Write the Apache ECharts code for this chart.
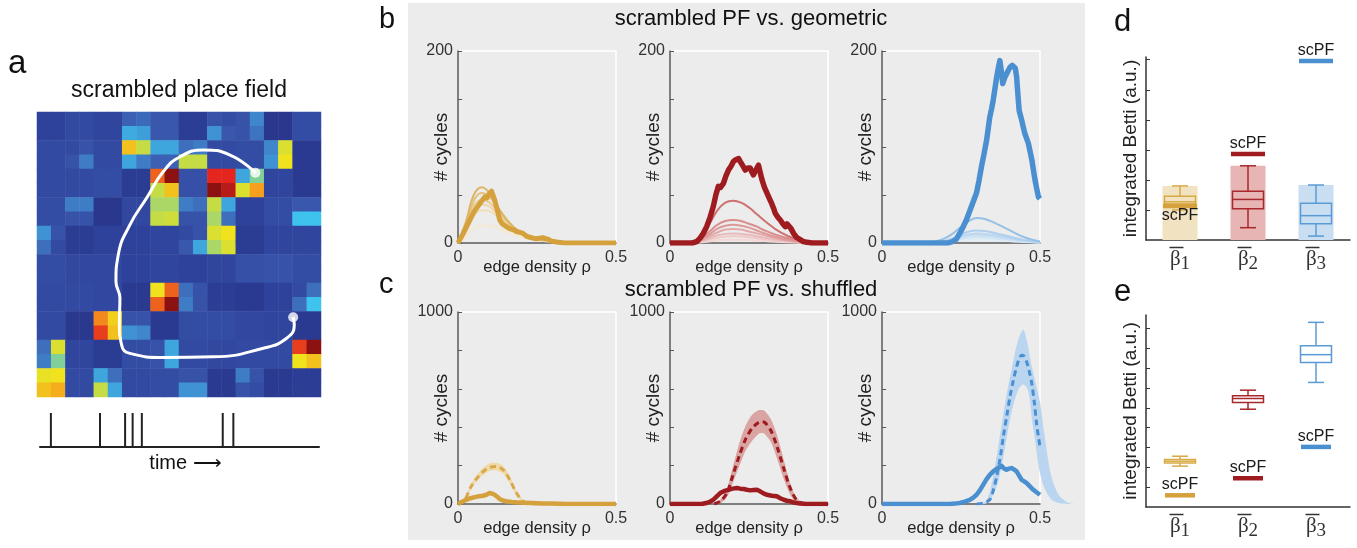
<!DOCTYPE html>
<html><head><meta charset="utf-8">
<script src="https://cdn.jsdelivr.net/npm/echarts/dist/echarts.min.js"></script>
<style>html,body{margin:0;padding:0;background:#fff}#c{width:1357px;height:548px}</style>
</head><body><div id="c"></div>
<script>
// ---------------- DATA ----------------
// panel a: scrambled place field, 10x10 cells; each cell is one colour value (0..9)
// or its four quarters [top-left, top-right, bottom-left, bottom-right]
const heatCells = [
 [1.2, 1.5, 1.3, [2.2,2.4,3.6,3.4], 2.0, 1.0, [1.8,1.6,3.2,2.0], [1.8,3.0,1.8,2.6], 0.6, 1.6],
 [1.5, [1.5,1.8,1.8,2.8], 1.5, [6.5,5.0,3.5,2.8], [3.5,3.5,2.2,2.2], [2.5,2.8,5.0,5.0], 1.5, 1.6, [3.0,5.5,3.2,6.0], 0.8],
 [1.5, 1.5, 1.6, 0.9, [7.5,9.0,5.0,6.5], 1.7, [8.0,8.0,9.0,8.5], [3.5,4.5,5.5,7.0], 1.3, 0.8],
 [1.6, [2.8,2.8,1.8,1.8], 0.6, 1.4, [4.8,4.8,5.0,5.2], [2.8,2.5,1.8,1.8], [5.0,3.5,4.8,2.5], 1.2, 1.6, [2.0,2.0,4.0,4.0]],
 [[3.2,1.8,2.5,1.5], 0.9, 1.2, 1.2, 1.3, [1.5,1.8,2.0,3.5], [5.5,6.0,4.8,5.5], 0.9, 1.3, 1.3],
 [1.6, 1.4, 1.4, 1.2, 1.3, 1.2, 1.3, 1.7, 1.8, 1.6],
 [1.5, 1.5, 1.4, 0.8, [6.0,7.5,7.5,9.0], [2.5,1.8,2.8,1.8], 1.0, 0.8, 1.2, [1.5,2.5,2.5,4.0]],
 [1.5, 0.7, [7.2,6.3,7.8,6.5], [1.8,1.8,3.2,3.0], 0.8, 1.6, 1.6, 1.4, 1.3, 0.8],
 [[2.5,5.5,2.8,4.5], 1.3, 0.9, 1.6, [1.8,3.5,1.8,3.5], 1.5, 1.4, 1.5, 1.5, [7.8,9.0,6.0,6.5]],
 [[5.8,6.0,6.5,6.8], 1.5, [3.5,2.5,5.0,3.5], 1.5, 1.6, [1.8,1.8,3.2,3.2], 0.8, [2.8,1.8,1.8,1.6], 0.8, 1.0]
];
const trajX = [7.69,6.80,5.86,5.04,4.45,3.86,3.27,2.86,2.78,2.92,2.90,2.98,3.27,4.45,6.21,7.97,8.79,9.06,9.02];
const trajY = [2.13,1.51,1.33,1.57,2.09,3.02,3.96,5.02,5.95,6.53,7.36,8.18,8.47,8.61,8.59,8.29,7.94,7.47,7.20];
const spikeTimes = [0.39,2.15,3.05,3.32,3.65,6.55,6.93];

// panel b: scrambled PF (thick) vs geometric (thin)
const b1Scpf = [[0,0],[0.005,3],[0.015,9],[0.027,17],[0.038,24],[0.048,31],[0.058,36],[0.069,41],[0.078,45],[0.085,48],[0.092,47],[0.098,51],[0.106,54],[0.111,52],[0.116,45],[0.124,35],[0.132,24],[0.14,20],[0.153,17],[0.163,15],[0.174,14],[0.185,12],[0.196,11],[0.206,10],[0.217,7],[0.227,6],[0.238,5],[0.248,4.5],[0.258,5],[0.269,5.5],[0.278,4.5],[0.285,4],[0.295,2],[0.312,1],[0.33,0.3],[0.344,0],[0.5,0]];
const b1GeoX = [0,0.025,0.05,0.075,0.1,0.125,0.15,0.175,0.2,0.25,0.3,0.35,0.4,0.45,0.5];
const b1Geo = [
 [0,22,50,58,52,38,26,17,11,5,2,1,0,0,0],
 [0,18,44,52,48,37,26,17,11,5,2,1,0,0,0],
 [0,15,38,45,42,33,24,16,10,4,2,0.5,0,0,0],
 [0,13,33,40,38,30,22,15,10,4,1.5,0.5,0,0,0],
 [0,11,28,34,33,27,20,14,9,4,1.5,0.5,0,0,0],
 [0,6,15,18,18,16,12,9,6,3,1,0.3,0,0,0]
];
const b2Scpf = [[0,0],[0.07,0],[0.085,1.5],[0.095,5],[0.105,10],[0.116,17],[0.127,27],[0.137,38],[0.145,50],[0.153,59],[0.16,58],[0.169,62],[0.177,70],[0.185,76],[0.193,80],[0.201,85],[0.209,87],[0.217,88],[0.222,85],[0.227,83],[0.233,79],[0.238,76],[0.246,78],[0.254,78],[0.259,74],[0.264,71],[0.272,76],[0.28,81],[0.285,74],[0.291,66],[0.299,58],[0.307,52],[0.315,46],[0.322,41],[0.328,36],[0.333,31],[0.341,27],[0.349,24],[0.357,20],[0.365,17],[0.37,20],[0.375,21],[0.383,15],[0.391,10],[0.4,6],[0.412,3.5],[0.422,1.5],[0.433,0.7],[0.45,0],[0.5,0]];
const b2GeoX = [0,0.05,0.075,0.1,0.125,0.15,0.175,0.2,0.225,0.25,0.275,0.3,0.35,0.4,0.45,0.5];
const b2Geo = [
 [0,0,2,8,20,34,42,44,42,37,30,23,11,4,1,0],
 [0,0,1,5,12,19,23,24,23,20,17,13,7,3,1,0],
 [0,0,1,4,9,15,18,19,18,16,13,10,5,2,0.5,0],
 [0,0,0.5,3,7,11,14,14.5,14,12,10,8,4,1.5,0.5,0],
 [0,0,0.5,2,5,8,9.5,10,9.5,8.5,7,5.5,3,1,0.3,0],
 [0,0,0.3,1.5,3.5,5.5,6.7,7,6.7,6,5,4,2,0.8,0.2,0],
 [0,0,0.2,0.8,1.8,2.8,3.3,3.5,3.3,3,2.5,2,1,0.4,0.1,0]
];
const b3Scpf = [[0,0],[0.209,0],[0.225,1.7],[0.235,4],[0.246,10],[0.257,17],[0.267,24],[0.275,31],[0.283,38],[0.291,45],[0.299,52],[0.307,65],[0.315,80],[0.323,93],[0.331,107],[0.336,119],[0.341,131],[0.347,140],[0.352,149],[0.358,162],[0.363,173],[0.368,182],[0.373,190],[0.378,178],[0.382,166],[0.388,172],[0.394,176],[0.4,180],[0.405,183],[0.412,185],[0.418,187],[0.422,182],[0.426,173],[0.43,155],[0.434,138],[0.438,133],[0.442,128],[0.452,114],[0.463,104],[0.474,87],[0.484,66],[0.49,56],[0.495,48],[0.5,46]];
const b3GeoX = [0,0.1,0.15,0.175,0.2,0.225,0.25,0.275,0.3,0.325,0.35,0.375,0.4,0.45,0.5];
const b3Geo = [
 [0,0,0.5,2,5,10,17,23,26,25,22,18,14,6,1.5],
 [0,0,0.2,1,2.5,5,9,12,13,12.5,11,9,7,3,1],
 [0,0,0.2,0.8,2,4,7,9,10,9.5,8.5,7,5.5,2.5,0.8],
 [0,0,0.1,0.6,1.5,3,5.5,7.5,8,7.5,7,5.5,4.5,2,0.6],
 [0,0,0.1,0.5,1.2,2.5,4,5.5,6,5.8,5,4,3.2,1.5,0.5],
 [0,0,0,0.3,0.7,1.5,2.5,3.3,3.5,3.4,3,2.5,2,1,0.3]
];

// panel c: scrambled PF (solid) vs shuffled (dashed mean, band)
const c1Scpf = [[0,0],[0.013,12],[0.026,22],[0.04,30],[0.053,36],[0.066,40],[0.079,43],[0.09,48],[0.1,57],[0.108,54],[0.116,48],[0.124,38],[0.132,26],[0.142,18],[0.153,14],[0.17,11],[0.185,9],[0.21,7],[0.238,5],[0.265,3],[0.29,2],[0.32,1],[0.34,0],[0.5,0]];
const c1ShufX = [0,0.021,0.042,0.069,0.095,0.122,0.143,0.164,0.185,0.206,0.227,0.25];
const c1ShufMean = [0,22,92,152,187,195,178,126,57,14,0,0];
const c1ShufHi = [0,28,105,170,208,215,198,145,70,20,2,0];
const c1ShufLo = [0,16,80,135,168,175,158,108,45,9,0,0];

const c2Scpf = [[0,0],[0.1,0],[0.115,5],[0.127,12],[0.137,22],[0.148,40],[0.159,57],[0.172,68],[0.185,74],[0.198,80],[0.212,83],[0.222,80],[0.233,78],[0.243,74],[0.254,71],[0.264,73],[0.275,74],[0.28,78],[0.285,66],[0.296,55],[0.307,48],[0.322,43],[0.338,40],[0.349,30],[0.36,22],[0.37,17],[0.381,14],[0.395,6],[0.412,2],[0.433,0],[0.5,0]];
const c2ShufX = [0.14,0.16,0.18,0.2,0.22,0.24,0.26,0.28,0.29,0.3,0.32,0.34,0.36,0.38,0.4,0.42,0.44];
const c2ShufMean = [0,15,57,155,255,340,395,425,429,425,380,292,185,85,22,3,0];
const c2ShufHi = [0,25,80,200,320,410,465,488,490,485,440,350,230,110,35,8,0];
const c2ShufLo = [0,5,35,115,200,280,330,365,370,365,320,230,130,50,8,0,0];

const c3Scpf = [[0,0],[0.215,0],[0.23,2],[0.246,5],[0.262,12],[0.278,22],[0.289,33],[0.299,48],[0.31,72],[0.32,100],[0.33,127],[0.341,152],[0.352,170],[0.363,183],[0.37,190],[0.378,199],[0.386,185],[0.394,178],[0.402,184],[0.41,187],[0.418,180],[0.426,170],[0.434,148],[0.442,126],[0.45,118],[0.458,109],[0.468,92],[0.479,74],[0.49,60],[0.5,48]];
const c3ShufX = [0.3,0.32,0.341,0.352,0.363,0.374,0.384,0.395,0.405,0.415,0.426,0.435,0.442,0.45,0.458,0.466,0.474,0.482,0.489,0.495,0.5];
const c3ShufMean = [0,5,22,70,144,240,351,460,559,640,715,760,775,770,740,690,628,530,420,350,299];
const c3BandX = [0.30,0.33,0.35,0.37,0.39,0.41,0.43,0.447,0.46,0.468,0.475,0.484,0.49,0.50,0.515,0.535,0.56,0.59,0.61];
const c3BandHi = [0,15,130,320,530,700,850,908,840,766,710,645,600,530,350,150,45,5,0];
const c3BandLo = [0,2,40,130,300,480,590,622,600,540,430,340,260,160,80,25,5,0,0];

// panels d, e: integrated Betti (box: min, q1, median, q3, max) and scPF values
const bettiCats = ['1','2','3'];
const boxD = [[1.00,1.20,1.27,1.46,1.80],[0.41,1.04,1.35,1.62,2.47],[0.13,0.54,0.81,1.22,1.83]];
const scpfD = [1.13,2.86,5.96];
const boxE = [[2.06,2.22,2.31,2.39,2.56],[4.93,5.27,5.47,5.61,5.89],[6.28,7.29,7.68,8.13,9.31]];
const scpfE = [0.59,1.45,3.03];

// ---------------- STYLE ----------------
const FF = '"Liberation Sans", Arial, Helvetica, sans-serif';
const SERIF = '"Liberation Serif", "Times New Roman", serif';
const GOLD = '#d4a13d', RED = '#9e1b20', BLUE = '#4a8fd0';
const jet = ['#252e7c','#2c3d96','#3a57ae','#3f86cc','#3dc3ee','#c6dc44','#f0e21c','#f6a01e','#e4261e','#8c1212'];
const goldGeoCol = ['#ddb567','#e3c27f','#e8cc93','#ecd5a6','#f0deb9','#f5e9d0'];
const redGeoCol = ['#cd7171','#d98d8c','#dd9998','#e3a9a8','#e8b9b8','#eec9c8','#f3d8d7'];
const blueGeoCol = ['#97c0e6','#afcfee','#bad6f0','#c6ddf2','#d2e5f5','#dfecf8'];
const boxCol = ['#d8aa45','#a8282c','#5b9bd5'];
const boxBg = ['#f1e3c1','#e6b5b4','#c9def1'];
const scCol = [GOLD, RED, BLUE];

const zip = (xs, ys) => xs.map((x, i) => [x, ys[i]]);

const grids = [], xAxes = [], yAxes = [], series = [];
function addGrid(g){ grids.push(g); return grids.length - 1; }

// ---- panel a ----
const gHeat = addGrid({left:37, top:112, width:284, height:285, show:false});
const subIdx = Array.from({length:20}, (_, i) => String(i));
xAxes.push({type:'category', gridIndex:gHeat, data:subIdx, show:false});
yAxes.push({type:'category', gridIndex:gHeat, data:subIdx, inverse:true, show:false});
const heatData = [];
heatCells.forEach((row, r) => row.forEach((cell, c) => {
  const q = Array.isArray(cell) ? cell : [cell, cell, cell, cell];
  heatData.push([2*c, 2*r, q[0]], [2*c+1, 2*r, q[1]], [2*c, 2*r+1, q[2]], [2*c+1, 2*r+1, q[3]]);
}));
series.push({type:'heatmap', xAxisIndex:0, yAxisIndex:0, data:heatData, progressive:0, itemStyle:{borderWidth:0}});

const gTraj = addGrid({left:37, top:112, width:284, height:285, show:false});
xAxes.push({type:'value', gridIndex:gTraj, min:0, max:10, show:false});
yAxes.push({type:'value', gridIndex:gTraj, min:0, max:10, inverse:true, show:false});
const traj = zip(trajX, trajY);
series.push({type:'line', xAxisIndex:1, yAxisIndex:1, data:traj, smooth:0.5, symbol:'none', lineStyle:{color:'#fff', width:3}, z:5});
series.push({type:'scatter', xAxisIndex:1, yAxisIndex:1, data:[traj[0], traj[traj.length-1]], symbolSize:10, itemStyle:{color:'#fff'}, z:6});

const gSpk = addGrid({left:40, top:413, width:279, height:34, show:false});
xAxes.push({type:'value', gridIndex:gSpk, min:0, max:10, axisLine:{show:true, onZero:false, lineStyle:{color:'#222', width:2}},
  axisTick:{show:false}, axisLabel:{show:false}, splitLine:{show:false},
  name:'time ⟶', nameLocation:'middle', nameGap:6, nameMoveOverlap:false,
  nameTextStyle:{fontSize:20, color:'#111', fontFamily:FF, padding:[0,0,0,12]}});
yAxes.push({type:'value', gridIndex:gSpk, min:0, max:1, show:false});
series.push({type:'custom', xAxisIndex:2, yAxisIndex:2, data:spikeTimes.map(t=>[t]),
  renderItem:(p, api) => {
    const a = api.coord([api.value(0), 0]), b = api.coord([api.value(0), 1]);
    return {type:'line', shape:{x1:a[0], y1:a[1], x2:b[0], y2:b[1]}, style:{stroke:'#222', lineWidth:2}};
  }});

// ---- panels b, c ----
function curveGrid(left, top, ymax, yint){
  const gi = addGrid({left, top, width:158, height:192, show:true, borderColor:'#fff', borderWidth:1.5, backgroundColor:'transparent'});
  xAxes.push({type:'value', gridIndex:gi, min:0, max:0.5, interval:0.5,
    axisLine:{show:true, onZero:false, lineStyle:{color:'#555', width:1.5}}, axisTick:{show:false},
    axisLabel:{fontSize:16, color:'#333', margin:7, fontFamily:FF}, splitLine:{show:false},
    name:'edge density ρ', nameLocation:'middle', nameGap:16, nameMoveOverlap:false,
    nameTextStyle:{fontSize:16.5, color:'#222', fontFamily:FF}});
  yAxes.push({type:'value', gridIndex:gi, min:0, max:ymax, interval:yint,
    axisLine:{show:true, onZero:false, lineStyle:{color:'#555', width:1.5}},
    axisTick:{show:true, inside:true, length:4, lineStyle:{color:'#555'}},
    axisLabel:{fontSize:16, color:'#333', margin:5, fontFamily:FF, formatter:v => (v===0 || v===ymax) ? String(v) : ''},
    splitLine:{show:false},
    name:'# cycles', nameLocation:'middle', nameGap:7, nameMoveOverlap:false,
    nameTextStyle:{fontSize:19, color:'#222', fontFamily:FF}});
  return xAxes.length - 1;
}
function addGeo(ai, xs, curves, cols){
  curves.forEach((ys, k) => series.push({type:'line', xAxisIndex:ai, yAxisIndex:ai, data:zip(xs, ys), smooth:0.4,
    symbol:'none', lineStyle:{color:cols[k], width:2}, z:2 + (curves.length - k) * 0.01}));
}
function addThick(ai, data, col, w){
  series.push({type:'line', xAxisIndex:ai, yAxisIndex:ai, data, symbol:'none', lineStyle:{color:col, width:w, join:'round'}, z:4});
}
function addBand(ai, xs, hi, lo, col){
  series.push({type:'custom', xAxisIndex:ai, yAxisIndex:ai, data:[[xs[0], hi[0]]], clip:false, z:2,
    renderItem:(p, api) => {
      const pts = xs.map((x, i) => api.coord([x, hi[i]]));
      for (let i = xs.length - 1; i >= 0; i--) pts.push(api.coord([xs[i], lo[i]]));
      return {type:'polygon', shape:{points:pts, smooth:0.3}, style:{fill:col}};
    }});
}
function addDash(ai, xs, ys, col){
  series.push({type:'line', xAxisIndex:ai, yAxisIndex:ai, data:zip(xs, ys), smooth:0.3, symbol:'none',
    lineStyle:{color:col, width:3, type:[6,4]}, z:3});
}

const ab1 = curveGrid(458, 51, 200, 50);
addGeo(ab1, b1GeoX, b1Geo, goldGeoCol); addThick(ab1, b1Scpf, GOLD, 5);
const ab2 = curveGrid(670, 51, 200, 50);
addGeo(ab2, b2GeoX, b2Geo, redGeoCol); addThick(ab2, b2Scpf, RED, 5.5);
const ab3 = curveGrid(882, 51, 200, 50);
addGeo(ab3, b3GeoX, b3Geo, blueGeoCol); addThick(ab3, b3Scpf, BLUE, 5.5);

const ac1 = curveGrid(458, 312, 1000, 200);
addBand(ac1, c1ShufX, c1ShufHi, c1ShufLo, '#f0d9a9'); addDash(ac1, c1ShufX, c1ShufMean, '#d8a94c'); addThick(ac1, c1Scpf, GOLD, 4.5);
const ac2 = curveGrid(670, 312, 1000, 200);
addBand(ac2, c2ShufX, c2ShufHi, c2ShufLo, '#d9a4a2'); addDash(ac2, c2ShufX, c2ShufMean, RED); addThick(ac2, c2Scpf, RED, 4.5);
const ac3 = curveGrid(882, 312, 1000, 200);
addBand(ac3, c3BandX, c3BandHi, c3BandLo, '#b9d5ef'); addDash(ac3, c3ShufX, c3ShufMean, BLUE); addThick(ac3, c3Scpf, BLUE, 4.5);

// ---- panels d, e ----
function bettiGrid(top, height, ymax, ticks){
  const gi = addGrid({left:1146, top, width:204, height, show:false});
  xAxes.push({type:'category', gridIndex:gi, data:bettiCats,
    axisLine:{show:true, onZero:false, lineStyle:{color:'#333', width:1.5}}, axisTick:{show:false},
    axisLabel:{margin:6, formatter:v => '{o| }{p| }\n{b|β}{s|' + v + '}',
      rich:{o:{width:14, height:1.5, lineHeight:3, backgroundColor:'#333'}, p:{width:7, height:1.5, lineHeight:3},
            b:{fontFamily:SERIF, fontSize:21, color:'#333', lineHeight:25, verticalAlign:'top'},
            s:{fontFamily:SERIF, fontSize:19, color:'#333', lineHeight:4, verticalAlign:'bottom'}}}});
  yAxes.push({type:'value', gridIndex:gi, min:0, max:ymax,
    axisLine:{show:true, onZero:false, lineStyle:{color:'#333', width:1.5}},
    axisTick:{show:true, inside:true, length:4, lineStyle:{color:'#333'}, customValues:ticks},
    axisLabel:{show:false}, splitLine:{show:false},
    name:'integrated Betti (a.u.)', nameLocation:'middle', nameGap:6, nameMoveOverlap:false,
    nameTextStyle:{fontSize:19, color:'#222', fontFamily:FF}});
  return xAxes.length - 1;
}
function addBoxes(ai, boxes, withBg){
  series.push({type:'custom', xAxisIndex:ai, yAxisIndex:ai, data:boxes.map((b, i) => [i, ...b]), z:3,
    renderItem:(p, api) => {
      const i = api.value(0);
      const v = [api.value(1), api.value(2), api.value(3), api.value(4), api.value(5)];
      const x = api.coord([i, 0])[0];
      const y = t => api.coord([i, t])[1];
      const ls = {stroke:boxCol[i], lineWidth:1.5, fill:'transparent'};
      const ch = [];
      if (withBg) ch.push({type:'rect', shape:{x:x-17.5, y:y(v[4]), width:35, height:y(0)-y(v[4])}, style:{fill:boxBg[i]}});
      ch.push({type:'line', shape:{x1:x, y1:y(v[4]), x2:x, y2:y(v[3])}, style:ls});
      ch.push({type:'line', shape:{x1:x, y1:y(v[1]), x2:x, y2:y(v[0])}, style:ls});
      ch.push({type:'line', shape:{x1:x-8, y1:y(v[4]), x2:x+8, y2:y(v[4])}, style:ls});
      ch.push({type:'line', shape:{x1:x-8, y1:y(v[0]), x2:x+8, y2:y(v[0])}, style:ls});
      ch.push({type:'rect', shape:{x:x-15.5, y:y(v[3]), width:31, height:y(v[1])-y(v[3])}, style:ls});
      ch.push({type:'line', shape:{x1:x-15.5, y1:y(v[2]), x2:x+15.5, y2:y(v[2])}, style:ls});
      return {type:'group', children:ch};
    }});
}
function addScpf(ai, vals, below, barW){
  series.push({type:'custom', xAxisIndex:ai, yAxisIndex:ai, data:vals.map((v, i) => [i, v]), z:4,
    renderItem:(p, api) => {
      const i = api.value(0);
      const pt = api.coord([i, api.value(1)]);
      const bl = below[i];
      return {type:'group', children:[
        {type:'rect', shape:{x:pt[0]-barW/2, y:pt[1]-2.25, width:barW, height:4.5}, style:{fill:scCol[i]}},
        {type:'text', style:{text:'scPF', x:pt[0], y: bl ? pt[1]+2 : pt[1]-2.5, align:'center',
          verticalAlign: bl ? 'top' : 'bottom', font:'16px ' + FF, fill:'#1a1a1a'}}
      ]};
    }});
}
const ad = bettiGrid(57, 183, 6.09, [1,2,3,4,5,6]);
addBoxes(ad, boxD, true); addScpf(ad, scpfD, [true,false,false], 34);
const ae = bettiGrid(315, 192, 9.68, [1,2,3,4,5,6,7,8,9]);
addBoxes(ae, boxE, false); addScpf(ae, scpfE, [false,false,false], 30);

// ---- free texts ----
function txt(text, x, y, size, align){
  return {type:'text', x, y, z:100, style:{text, font:size + 'px ' + FF, fill:'#111', align:align || 'left', verticalAlign:'middle'}};
}
const graphics = [
  {type:'rect', shape:{x:408, y:3, width:677, height:537}, style:{fill:'#ececec'}, z:-100},
  txt('a', 8, 63.5, 33),
  txt('scrambled place field', 179, 90.3, 23, 'center'),
  txt('b', 379, 20, 29),
  txt('c', 379, 284.8, 29),
  txt('d', 1114, 22.4, 31),
  txt('e', 1114, 292.4, 31),
  txt('scrambled PF vs. geometric', 751, 19, 22, 'center'),
  txt('scrambled PF vs. shuffled', 751, 289.6, 22, 'center')
];

const chart = echarts.init(document.getElementById('c'), null, {renderer:'canvas'});
chart.setOption({
  animation:false,
  backgroundColor:'#ffffff',
  textStyle:{fontFamily:FF},
  grid:grids, xAxis:xAxes, yAxis:yAxes,
  visualMap:{type:'continuous', min:0, max:9, show:false, seriesIndex:0, inRange:{color:jet}},
  graphic:{elements:graphics},
  series
});
</script></body></html>
